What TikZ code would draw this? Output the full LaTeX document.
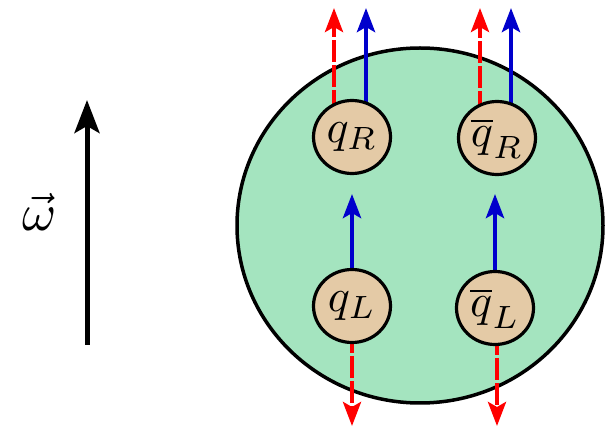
\documentclass[tikz,border=0pt]{standalone}
\usepackage{graphicx}
\usetikzlibrary{arrows.meta,backgrounds,shapes.geometric}
\definecolor{ballgreen}{RGB}{164,228,191}
\definecolor{quarktan}{RGB}{228,202,166}
\definecolor{spinblue}{RGB}{0,0,204}
\definecolor{spinred}{RGB}{255,0,0}
\newcommand{\bigtxt}[2]{\scalebox{#1}{$#2$}}
\begin{document}
\begin{tikzpicture}[x=1pt,y=-1pt,
  quark/.style={ellipse,draw=black,line width=3.2pt,fill=quarktan,minimum width=77pt,minimum height=73pt,inner sep=0pt},
  bluespin/.style={draw=spinblue,line width=4.5pt,-{Stealth[length=24pt,width=18pt,inset=5pt]}},
  redspin/.style={draw=spinred,line width=4pt,dash pattern=on 22pt off 3pt,-{Stealth[length=24pt,width=18pt,inset=5pt]}},
  axis/.style={draw=black,line width=5pt,-{Stealth[length=33pt,width=25pt,inset=7pt]}}]
\useasboundingbox (0,0) rectangle (608,427);
% quarks
\node[quark] (qR) at (352,137) {\bigtxt{4.6}{q_R}};
\node[quark] (qbR) at (497,138) {\bigtxt{4.6}{\overline{q}_R}};
\node[quark] (qL) at (352,306) {\bigtxt{4.6}{q_L}};
\node[quark] (qbL) at (495,308) {\bigtxt{4.6}{\overline{q}_L}};
% omega axis
\coordinate (wb) at (87,345);
\coordinate (wt) at (87,100);
\draw[axis] (wb) -- (wt);
\node (om) at (40,212) {\bigtxt{5.2}{\vec\omega}};
% tips
\coordinate (tRr) at (334,8);
\coordinate (tRb) at (366,8);
\coordinate (tbRr) at (480,8);
\coordinate (tbRb) at (511,8);
\coordinate (tLb) at (352,194);
\coordinate (tbLb) at (495,194);
\coordinate (tLr) at (352,426);
\coordinate (tbLr) at (497,426);
\begin{scope}[on background layer]
  \node[ellipse,draw=black,line width=3.5pt,fill=ballgreen,minimum width=366pt,minimum height=355pt,inner sep=0pt] (ball) at (420,225.5) {};
  \draw[redspin] (qR.center -| tRr) -- (tRr);
  \draw[bluespin] (qR.center -| tRb) -- (tRb);
  \draw[redspin] (qbR.center -| tbRr) -- (tbRr);
  \draw[bluespin] (qbR.center -| tbRb) -- (tbRb);
  \draw[bluespin] (qL.center) -- (tLb);
  \draw[bluespin] (qbL.center) -- (tbLb);
  \draw[redspin] (qL.center) -- (tLr);
  \draw[redspin] (qbL.center -| tbLr) -- (tbLr);
\end{scope}
\end{tikzpicture}
\end{document}
